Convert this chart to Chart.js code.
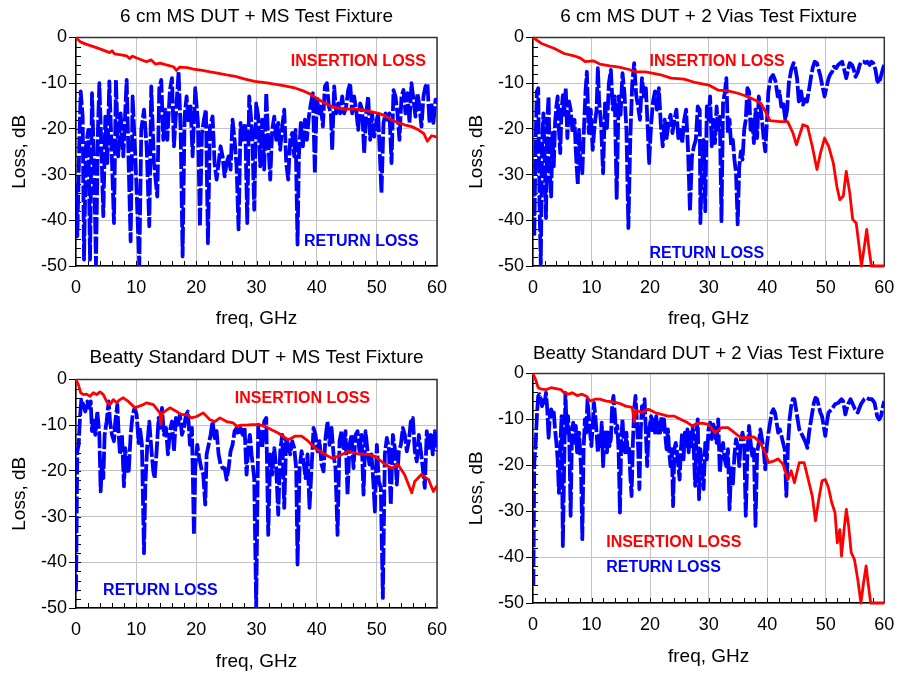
<!DOCTYPE html>
<html><head><meta charset="utf-8">
<script src="https://cdn.jsdelivr.net/npm/chart.js@4.4.0/dist/chart.umd.min.js"></script>
<style>
html,body{margin:0;padding:0;background:#fff;overflow:hidden;}
#wrap{position:relative;width:906px;height:673px;}
canvas{position:absolute;left:0;top:0;}
</style></head><body><div id="wrap">
<canvas id="c1" width="906" height="673"></canvas>
<canvas id="c2" width="906" height="673"></canvas>
<canvas id="c3" width="906" height="673"></canvas>
<canvas id="c4" width="906" height="673"></canvas>
</div>
<script>
// ---------- titles / labels ----------
const panelTitles = ["6 cm MS DUT + MS Test Fixture", "6 cm MS DUT + 2 Vias Test Fixture",
  "Beatty Standard DUT + MS Test Fixture", "Beatty Standard DUT + 2 Vias Test Fixture"];
const xAxisTitle = "freq, GHz";
const yAxisTitle = "Loss, dB";
const ilText = "INSERTION LOSS";
const rlText = "RETURN LOSS";

// ---------- top-left: 6 cm MS DUT + MS fixture ----------
const tlIlFreq = [0,0.66,1.5,2.9,4.2,5.6,6.0,6.4,7.5,8.4,8.9,9.4,10.1,11.7,12.5,13.2,14,15,16.2,16.7,17.2,18.5,19.5,21,22.3,23.5,25,26.5,28.1,29.7,32,34.7,36.5,38,39,40,41,41.9,43,44.7,46,47.5,49,50.3,51.5,52.4,53.5,54.6,55.8,56.9,57.8,58.4,59.1,60];
const tlIlLoss = [0,-0.9,-1.4,-2.0,-2.6,-3.3,-2.9,-3.6,-3.8,-4.0,-4.6,-4.1,-4.5,-5.3,-4.9,-5.8,-5.6,-6.0,-6.4,-7.2,-6.5,-6.6,-6.9,-7.2,-7.5,-7.8,-8.2,-8.5,-9.1,-9.6,-10.0,-10.6,-11.1,-11.8,-12.4,-13.3,-14.1,-14.7,-15.3,-15.7,-15.6,-15.8,-16.2,-16.6,-17.2,-18.0,-18.6,-19.1,-19.5,-20.2,-21.0,-22.7,-21.5,-21.8];
const tlRlFreq = [0,0.22,0.55,0.78,1.11,1.33,1.66,2.05,2.33,2.66,2.99,3.32,3.65,3.88,4.21,4.54,4.87,5.2,5.54,5.92,6.31,6.64,7.03,7.42,7.86,8.42,8.75,9.08,9.41,9.86,10.52,10.85,11.3,11.74,12.18,12.51,12.96,13.51,13.84,14.17,14.51,14.84,15.17,15.61,15.95,16.28,16.72,17.05,17.39,17.72,18.05,18.38,18.71,19.05,19.38,19.82,20.27,20.6,20.93,21.26,21.59,21.93,22.26,22.7,23.03,23.37,23.7,24.03,24.36,24.7,25.03,25.36,25.69,26.02,26.36,26.69,27.02,27.35,27.69,28.13,28.46,28.79,29.29,29.62,29.95,30.29,30.62,30.95,31.28,31.62,31.95,32.28,32.61,32.95,33.28,33.61,33.94,34.27,34.61,34.94,35.27,35.6,35.94,36.27,36.49,36.82,37.04,37.37,37.71,38.04,38.37,38.7,39.04,39.37,39.7,40.03,40.36,40.7,41.03,41.36,41.69,42.03,42.36,42.58,42.91,43.24,43.57,43.91,44.24,44.57,44.9,45.24,45.57,45.9,46.23,46.56,46.9,47.23,47.56,47.89,48.23,48.56,48.89,49.22,49.56,49.89,50.22,50.44,50.77,51.11,51.44,51.77,52.1,52.44,52.77,53.1,53.43,53.76,54.1,54.43,54.76,55.09,55.43,55.76,56.09,56.42,56.75,57.09,57.42,57.75,58.08,58.41,58.75,59.08,59.41,59.74,60];
const tlRlLoss = [-31.8,-43.5,-23.1,-11.8,-17.3,-48.6,-23.8,-20.2,-48.6,-12.2,-27.5,-49.7,-20.2,-10.0,-23.8,-39.1,-17.3,-27.5,-9.6,-24.6,-40.6,-9.3,-26.0,-16.6,-26.0,-9.3,-27.5,-44.6,-12.9,-26.0,-49.7,-20.2,-15.8,-23.8,-41.3,-10.7,-27.5,-34.8,-11.1,-9.3,-22.4,-15.8,-22.4,-11.5,-8.9,-23.8,-14.4,-7.5,-20.2,-47.9,-17.3,-12.9,-18.7,-15.1,-26.0,-11.1,-18.7,-41.3,-20.9,-18.0,-15.8,-45.0,-19.5,-17.3,-27.5,-31.1,-27.5,-23.8,-26.0,-30.4,-27.5,-26.0,-28.9,-18.0,-22.4,-28.2,-42.0,-18.7,-22.4,-18.7,-40.6,-12.9,-20.9,-37.7,-14.4,-17.3,-28.2,-18.0,-28.9,-12.2,-22.4,-31.1,-20.2,-17.3,-22.4,-18.7,-24.6,-19.5,-15.8,-27.5,-31.1,-22.4,-20.9,-26.0,-20.2,-45.3,-26.0,-18.7,-23.8,-18.0,-22.4,-17.3,-14.4,-12.2,-29.7,-12.9,-16.6,-15.1,-19.5,-10.7,-10.0,-15.1,-16.6,-24.6,-10.7,-16.6,-14.4,-16.6,-12.9,-16.6,-15.1,-11.5,-10.0,-16.6,-12.9,-15.8,-20.2,-14.4,-15.8,-25.3,-16.6,-12.9,-22.4,-16.6,-21.7,-18.7,-16.6,-23.8,-34.0,-18.7,-16.6,-18.0,-16.6,-27.5,-11.5,-12.9,-16.6,-22.4,-12.9,-11.5,-16.6,-12.2,-18.7,-10.0,-13.6,-17.3,-12.2,-15.1,-19.5,-12.9,-10.7,-10.0,-18.7,-14.4,-18.7,-13.6,-13.6];

// ---------- top-right: 6 cm MS DUT + 2 vias fixture ----------
const trIlFreq = [0,1.44,3.66,5.3,7,8.1,8.9,10.3,11.4,13.1,14.7,16.4,17.5,19.2,20.3,21.9,23.6,25.8,27.8,30,31.6,33.3,35,36.6,37.8,38.9,39.7,40.5,42.2,43.5,44.4,45,46.1,46.9,47.7,48.5,49.1,49.8,50.5,51.3,51.9,52.4,53,53.5,54.1,54.6,55.2,55.7,56.1,56.6,57,57.4,57.8,60];
const trIlLoss = [0,-1.3,-2.4,-3.5,-4.0,-4.5,-5.3,-5.1,-5.8,-6.2,-6.5,-7.0,-7.5,-7.5,-7.8,-8.2,-8.9,-9.1,-9.9,-10.4,-11.5,-11.7,-12.2,-12.9,-13.6,-14.4,-16.2,-18.2,-18.4,-18.4,-20.9,-23.5,-19.1,-19.5,-23.8,-28.9,-25.3,-22.0,-23.8,-27.5,-32.6,-35.5,-34.7,-29.3,-34.0,-39.8,-40.6,-45.7,-50,-45.7,-42.0,-46.4,-50,-50];
const trRlFreq = [0.06,0.22,0.44,0.66,0.89,1.11,1.33,1.55,1.77,1.99,2.22,2.44,2.66,2.88,3.1,3.32,3.55,3.77,3.99,4.21,4.43,4.65,4.88,5.1,5.32,5.6,5.87,6.15,6.43,6.76,7.09,7.31,7.65,7.87,8.09,8.42,8.64,8.97,9.2,9.53,9.86,10.19,10.53,10.86,11.08,11.3,11.63,11.97,12.3,12.63,12.96,13.3,13.63,13.96,14.29,14.63,14.96,15.29,15.62,15.96,16.29,16.62,16.95,17.28,17.62,17.95,18.28,18.61,18.95,19.28,19.61,19.83,20.17,20.5,20.83,21.16,21.5,21.83,22.16,22.49,22.82,23.16,23.49,23.82,24.15,24.49,24.82,25.15,25.48,25.82,26.15,26.48,26.81,27.15,27.48,27.81,28.14,28.48,
  28.59,28.86,29.14,29.42,29.69,29.97,30.25,30.53,30.8,31.08,31.36,31.63,31.91,32.19,32.46,32.74,33.02,33.3,33.57,33.85,34.13,34.4,34.68,34.96,35.23,35.51,35.79,36.07,36.34,36.62,36.9,37.17,37.45,37.73,38.0,38.28,38.56,38.84,39.11,39.39,39.67,
  40.0,40.2,40.6,41.0,41.4,41.8,42.1,42.4,42.7,43.1,43.4,43.7,44.1,44.5,44.7,45.1,45.4,45.8,46.1,46.5,46.8,47.1,47.5,47.8,48.1,48.5,48.8,49.1,49.5,49.8,50.1,50.5,50.8,51.1,51.4,51.8,52.1,52.5,52.8,53.1,53.5,53.8,54.1,54.5,54.8,55.1,55.5,55.8,56.1,56.5,56.8,57.1,57.5,57.8,58.1,58.5,58.8,59.1,59.4,59.8,60];
const trRlLoss = [-31.1,-43.5,-23.1,-11.8,-11.1,-36.2,-49.7,-24.6,-16.6,-26.0,-39.5,-18.0,-12.9,-30.0,-34.8,-20.9,-28.2,-18.7,-15.1,-12.9,-20.2,-25.3,-15.8,-12.6,-16.9,-11.1,-22.0,-14.0,-15.8,-20.9,-18.0,-24.9,-32.2,-20.2,-28.2,-29.7,-22.0,-11.8,-7.5,-20.9,-15.8,-24.6,-19.1,-15.8,-6.7,-14.0,-19.1,-29.7,-14.4,-19.8,-10.0,-7.1,-15.8,-12.9,-35.1,-12.9,-16.9,-7.8,-12.2,-20.2,-41.7,-22.0,-10.0,-5.6,-12.6,-15.1,-18.0,-8.9,-12.9,-11.1,-20.2,-27.5,-19.1,-14.0,-11.8,-15.8,-11.1,-19.1,-23.8,-18.0,-22.0,-18.7,-16.9,-20.9,-18.0,-15.8,-22.0,-20.2,-23.1,-18.0,-15.8,-24.6,-38.0,-26.0,-23.8,-22.4,-15.1,-15.8,
  -40.6,-28.2,-22.4,-38.0,-15.1,-18.0,-12.9,-23.8,-18.0,-23.1,-15.1,-20.2,-17.3,-40.2,-14.4,-12.2,-8.9,-20.9,-18.0,-23.8,-22.4,-26.7,-29.7,-40.9,-28.2,-24.9,-26.7,-20.2,-18.0,-11.1,-11.8,-20.2,-18.0,-23.1,-15.8,-22.0,-12.9,-15.1,-18.0,-22.0,-24.9,
  -17.3,-11.8,-8.9,-8.2,-9.5,-12.9,-11.8,-15.1,-14.0,-18.0,-15.8,-10.0,-7.1,-5.6,-6.0,-8.9,-14.0,-11.8,-14.7,-13.5,-14.0,-11.8,-8.5,-6.5,-5.3,-5.6,-7.1,-8.5,-11.1,-12.9,-11.1,-8.9,-8.0,-7.5,-6.4,-6.7,-6.0,-5.6,-5.3,-6.7,-8.9,-7.1,-5.6,-6.0,-7.1,-8.6,-7.5,-6.0,-5.3,-5.3,-5.6,-5.3,-6.0,-5.3,-5.6,-7.1,-9.5,-10.0,-8.6,-6.7,-6.0];

// ---------- bottom-left: Beatty DUT + MS fixture ----------
const blIlFreq = [0,0.39,0.78,1.22,1.77,2.33,2.88,3.43,3.99,4.54,5.09,5.65,6.2,6.76,7.31,7.86,8.69,9.25,9.8,10.35,11.18,11.74,12.85,13.95,14.1,14.4,15.61,16.72,17.55,18.38,19.21,20.04,21.15,22.26,23.09,23.92,25.03,26.13,26.69,27.52,28.35,29.2,30.3,31.4,32.5,33.6,35.3,36.4,37.5,38.6,39.7,41.4,42.5,43.6,45.3,46.9,48.6,49.7,51.4,52.5,53.5,54.6,55.8,56.3,57.4,58.6,59.4,59.9,60];
const blIlLoss = [0,-1.1,-2.9,-3.3,-3.2,-3.7,-2.9,-3.3,-2.7,-3.3,-4.8,-5.5,-4.4,-5.1,-4.4,-4.0,-4.8,-5.5,-6.2,-5.9,-5.5,-5.1,-5.5,-7.3,-9.8,-7.3,-6.2,-7.0,-7.7,-7.7,-8.4,-8.1,-7.3,-8.8,-9.2,-8.4,-9.2,-9.5,-10.2,-10.0,-10.0,-9.9,-9.9,-10.2,-11.0,-11.7,-13.2,-12.4,-12.4,-13.5,-15.0,-16.4,-17.2,-16.8,-15.7,-16.3,-16.4,-16.8,-18.6,-19.4,-18.6,-20.8,-24.8,-22.3,-20.8,-21.9,-24.5,-23.4,-23.6];
const blRlFreq = [0,0.22,0.44,0.66,0.89,1.22,1.55,1.88,2.21,2.44,2.66,2.88,3.21,3.54,3.88,4.1,4.32,4.54,4.76,5.09,5.43,5.65,5.98,6.31,6.53,6.87,7.09,7.31,7.64,7.97,8.19,8.42,8.75,9.08,9.41,9.75,10.08,10.41,10.63,10.96,11.3,11.52,11.85,12.18,12.51,12.85,13.07,13.4,13.73,13.95,14.29,14.62,14.95,15.28,15.61,15.95,16.28,16.61,16.94,17.27,17.61,17.94,18.27,18.6,18.94,19.27,19.6,19.82,20.15,20.49,20.82,21.15,21.48,21.71,22.04,22.37,22.7,23.03,23.37,23.7,24.03,24.36,24.7,25.03,25.36,25.69,26.02,26.36,26.69,27.02,27.35,27.69,28.02,28.35,28.68,28.9,
  29.18,29.62,29.95,30.29,30.62,30.95,31.28,31.62,31.95,32.28,32.61,32.95,33.28,33.61,33.94,34.27,34.61,34.94,35.27,35.6,35.94,36.27,36.6,36.82,37.15,37.49,37.82,38.15,38.48,38.81,39.15,39.48,39.81,40.14,40.48,40.81,41.14,41.47,41.8,42.14,42.47,42.8,43.13,43.47,43.8,44.13,44.46,44.79,45.13,45.46,45.79,46.12,46.46,46.79,47.12,47.45,47.79,48.12,48.45,48.78,49.11,49.45,49.67,50.0,50.33,50.66,51.0,51.33,51.66,51.99,52.32,52.66,52.99,53.32,53.66,53.99,54.32,54.65,54.98,55.32,55.65,55.98,56.31,56.64,56.98,57.31,57.64,57.97,58.3,58.64,58.97,59.3,59.63,59.97];
const blRlLoss = [-46.4,-15.7,-14.3,-8.4,-4.4,-5.5,-7.0,-4.8,-6.2,-4.8,-11.3,-8.4,-12.1,-7.0,-12.1,-24.5,-17.9,-21.6,-12.1,-9.2,-4.8,-9.2,-12.1,-13.5,-9.2,-5.5,-12.1,-16.4,-12.1,-23.4,-15.0,-17.9,-20.5,-12.1,-7.7,-6.2,-7.7,-13.9,-10.6,-14.3,-38.0,-23.0,-14.3,-9.2,-15.0,-20.1,-21.6,-15.7,-8.4,-10.6,-6.2,-12.1,-10.6,-16.4,-11.3,-9.2,-15.7,-8.4,-9.9,-7.7,-12.1,-10.6,-7.7,-7.0,-14.3,-10.6,-34.0,-19.4,-14.3,-17.2,-19.4,-20.8,-27.4,-16.4,-14.3,-12.1,-9.2,-12.8,-11.3,-16.4,-18.6,-19.4,-19.4,-21.9,-19.4,-15.7,-14.3,-11.3,-10.6,-12.1,-10.6,-12.1,-10.6,-20.8,-14.3,-12.1,
  -16.4,-21.6,-50,-9.9,-12.1,-15.0,-9.2,-8.4,-34.0,-16.4,-20.8,-15.0,-19.4,-29.6,-15.7,-12.1,-28.1,-12.8,-14.3,-16.4,-13.5,-15.0,-19.4,-40.5,-19.4,-15.7,-17.9,-21.6,-16.4,-28.1,-19.4,-10.6,-12.1,-15.7,-13.5,-18.6,-20.1,-12.8,-9.2,-14.3,-10.6,-16.4,-19.4,-34.0,-13.5,-11.3,-15.0,-11.3,-25.2,-14.3,-12.1,-19.4,-12.1,-11.3,-15.7,-12.1,-25.2,-11.3,-15.7,-18.6,-16.4,-23.0,-28.9,-14.3,-22.3,-23.7,-47.8,-16.4,-12.8,-15.0,-27.4,-12.1,-15.0,-23.0,-15.7,-14.3,-10.6,-12.1,-15.7,-13.5,-9.2,-8.4,-15.7,-17.9,-12.1,-15.7,-19.4,-23.7,-11.3,-15.0,-12.1,-16.4,-11.3,-15.7];

// ---------- bottom-right: Beatty DUT + 2 vias fixture ----------
const brIlFreq = [0,0.44,0.89,1.44,2.27,3.1,3.93,4.76,5.32,6.15,6.7,7.53,8.37,9.2,9.75,10.58,11.41,12.52,13.63,14.74,15.84,16.95,17.3,17.6,18.61,19.72,20.83,21.94,23.05,24.15,25.26,26.37,27.2,28.03,28.86,29.97,31.08,32.19,33.3,34.4,35.51,36.62,37.73,38.84,39.67,40.22,41.05,41.88,42.71,43.54,44.1,44.65,45.48,46.31,47.15,47.7,48.25,48.81,49.36,49.92,50.47,51.02,51.58,51.97,52.41,52.69,53.13,53.52,53.91,54.35,54.9,55.46,56.01,56.46,56.9,57.23,57.68,60];
const brIlLoss = [0,-1.3,-3.1,-3.4,-3.5,-3.1,-3.3,-3.5,-4.2,-4.5,-4.2,-4.8,-4.5,-5.0,-6.0,-5.6,-5.6,-6.0,-6.2,-6.5,-7.1,-7.4,-10.5,-8.0,-8.5,-7.8,-8.5,-8.9,-9.3,-9.3,-10.0,-10.7,-11.4,-10.9,-10.8,-11.1,-12.9,-11.8,-11.8,-12.9,-14.0,-14.0,-13.8,-15.1,-17.3,-19.4,-19.1,-18.6,-19.8,-23.1,-21.2,-23.8,-19.4,-19.4,-23.8,-26.7,-32.1,-27.4,-23.4,-23.1,-24.9,-28.1,-30.3,-36.9,-34.0,-39.8,-34.0,-29.6,-33.2,-39.0,-40.5,-44.8,-50,-45.6,-41.9,-45.6,-50,-50];
const brRlFreq = [0.06,0.22,0.44,0.66,0.89,1.11,1.33,1.55,1.77,1.99,2.22,2.44,2.66,2.88,3.1,3.32,3.55,3.77,3.99,4.21,4.43,4.65,4.88,5.1,5.32,5.54,5.76,5.98,6.2,6.43,6.65,6.87,7.09,7.31,7.53,7.87,8.2,8.42,8.64,8.86,9.09,9.31,9.53,9.75,9.97,10.19,10.42,10.64,10.86,11.08,11.3,11.52,11.74,11.97,12.19,12.41,12.63,12.85,13.07,13.3,13.52,13.74,13.96,14.18,14.4,14.63,14.85,15.07,15.29,15.51,15.73,15.96,16.18,16.4,16.62,16.84,17.06,17.28,17.51,17.73,17.95,18.17,18.39,18.61,18.84,19.06,19.28,19.5,19.72,19.94,20.17,20.39,20.61,20.83,21.05,21.27,21.5,21.72,21.94,22.16,22.38,22.6,22.82,23.05,23.27,23.49,23.71,23.93,24.15,24.38,24.6,24.82,25.04,25.26,25.48,25.71,25.93,26.15,26.37,26.59,26.81,27.03,27.26,27.48,27.7,27.92,28.14,28.36,
  28.59,28.86,29.14,29.42,29.69,29.97,30.25,30.53,30.8,31.08,31.36,31.63,31.91,32.19,32.46,32.74,33.02,33.3,33.57,33.85,34.13,34.4,34.68,34.96,35.23,35.51,35.79,36.07,36.34,36.62,36.9,37.17,37.45,37.73,38.0,38.28,38.56,38.84,39.11,39.39,39.67,39.94,40.22,40.5,40.77,41.05,41.33,41.61,41.88,42.16,42.44,42.71,42.99,43.27,43.54,43.82,44.1,44.37,44.65,44.93,45.2,45.48,46.04,46.59,46.87,47.15,47.42,47.7,47.98,48.25,48.53,48.81,49.08,49.36,49.64,49.92,50.19,50.47,51.02,51.58,52.13,52.69,52.96,53.35,53.8,54.24,54.62,55.01,55.46,56.01,56.57,57.01,57.45,57.89,58.34,58.78,59.11,59.44,59.78,60];
const brRlLoss = [-46.3,-19.4,-15.8,-9.3,-4.9,-4.5,-5.6,-7.1,-5.3,-6.4,-4.2,-7.8,-14.0,-9.3,-7.8,-9.3,-8.5,-12.2,-15.1,-18.7,-26.0,-16.5,-9.3,-37.6,-20.2,-4.2,-12.9,-9.3,-14.3,-31.0,-12.9,-10.7,-15.1,-11.4,-17.2,-12.9,-20.2,-36.1,-16.5,-10.0,-12.9,-5.6,-9.3,-12.9,-15.8,-11.4,-6.4,-9.3,-12.9,-17.2,-12.9,-15.8,-10.7,-20.2,-14.3,-12.2,-17.2,-12.9,-15.8,-14.3,-7.1,-4.9,-8.5,-12.9,-11.4,-17.2,-30.3,-14.3,-10.0,-15.8,-17.2,-12.9,-17.2,-15.8,-22.3,-26.7,-15.1,-7.8,-4.9,-10.0,-15.8,-25.2,-12.9,-7.1,-9.3,-5.6,-12.9,-20.2,-12.9,-11.4,-9.3,-12.9,-10.0,-12.9,-9.3,-12.9,-10.7,-12.9,-9.3,-12.2,-10.0,-13.6,-16.5,-12.2,-17.2,-20.2,-16.5,-28.9,-16.5,-15.1,-17.2,-20.2,-23.1,-16.5,-12.9,-18.7,-12.9,-15.8,-12.2,-17.2,-12.9,-15.8,-11.4,-17.2,-24.5,-12.9,-10.0,-27.4,
  -16.5,-20.2,-25.2,-15.1,-18.7,-12.2,-10.7,-14.3,-11.1,-12.9,-15.1,-10.0,-21.6,-17.2,-15.1,-18.7,-20.2,-16.5,-29.6,-20.2,-24.5,-17.9,-14.3,-15.8,-20.2,-14.3,-12.9,-15.1,-31.0,-17.2,-11.4,-15.1,-17.9,-16.5,-33.2,-17.2,-15.1,-12.2,-14.3,-16.5,-20.9,-15.8,-12.9,-10.7,-8.5,-7.8,-8.5,-10.7,-12.9,-12.2,-13.6,-15.1,-16.5,-26.7,-15.8,-10.0,-7.1,-5.6,-5.6,-7.8,-10.0,-12.2,-13.6,-15.1,-16.2,-12.9,-10.7,-8.5,-6.4,-5.3,-5.6,-7.1,-8.5,-9.3,-11.4,-13.6,-10.7,-8.5,-7.8,-6.7,-6.4,-5.6,-6.0,-8.9,-6.7,-5.6,-6.7,-7.8,-8.5,-6.7,-5.6,-5.3,-5.6,-5.6,-6.4,-9.3,-10.0,-9.3,-7.1,-6.0];

// ---------- drawing ----------
const FONT = '"Liberation Sans", Arial, Helvetica, sans-serif';
Chart.defaults.font.family = FONT;
Chart.defaults.color = '#000';
const RED = '#ff0000', BLUE = '#0000ff', GRID = '#c4c4c4';

function zip(xs, ys) { const n = Math.min(xs.length, ys.length); const out = []; for (let i = 0; i < n; i++) out.push({x: xs[i], y: ys[i]}); return out; }

const decor = {
  id: 'decor',
  beforeDatasetsDraw(chart) {
    const {ctx, chartArea: a, scales: {x, y}} = chart;
    ctx.save();
    ctx.strokeStyle = '#000'; ctx.lineWidth = 1;
    ctx.beginPath();
    for (let v = 2; v < 60; v += 2) { const px = Math.round(x.getPixelForValue(v)) + 0.5; ctx.moveTo(px, a.bottom); ctx.lineTo(px, a.bottom - 5); }
    for (let v = -48; v < 0; v += 2) { const py = Math.round(y.getPixelForValue(v)) + 0.5; ctx.moveTo(a.left, py); ctx.lineTo(a.left + 5, py); }
    ctx.stroke();
    ctx.strokeStyle = '#333'; ctx.lineWidth = 1.5;
    ctx.beginPath(); ctx.moveTo(a.left, a.top); ctx.lineTo(a.right, a.top); ctx.lineTo(a.right, a.bottom); ctx.stroke();
    ctx.restore();
  },
  afterDatasetsDraw(chart, args, opts) {
    const {ctx, scales: {x, y}} = chart;
    ctx.save();
    ctx.font = 'bold 16px ' + FONT;
    ctx.textBaseline = 'middle'; ctx.textAlign = 'left';
    (opts.labels || []).forEach(l => { ctx.fillStyle = l.color; ctx.fillText(l.text, x.getPixelForValue(l.x), y.getPixelForValue(l.y)); });
    ctx.restore();
  }
};

function makePanel(id, p) {
  new Chart(document.getElementById(id), {
    type: 'line',
    data: { datasets: [
      { label: ilText, data: zip(p.ilF, p.ilL), borderColor: RED, borderWidth: 2.8, pointRadius: 0, borderJoinStyle: 'round', tension: 0, clip: 3 },
      { label: rlText, data: zip(p.rlF, p.rlL), borderColor: BLUE, borderWidth: 3.8, borderDash: [17, 2.5], pointRadius: 0, borderJoinStyle: 'round', tension: 0 }
    ]},
    options: {
      responsive: false, animation: false, devicePixelRatio: 1,
      layout: { padding: p.pad },
      plugins: {
        legend: { display: false }, tooltip: { enabled: false },
        title: { display: true, text: p.title, fullSize: false, color: '#000', font: { size: 19, weight: 'normal' }, padding: { top: p.tt, bottom: p.tb } },
        decor: { labels: p.labels }
      },
      scales: {
        x: { type: 'linear', min: 0, max: 60,
          ticks: { stepSize: 10, font: { size: 18 }, padding: 11.7, color: '#000', maxRotation: 0 },
          grid: { color: GRID, lineWidth: 1, drawTicks: false },
          border: { color: '#000', width: 1.5 },
          title: { display: true, text: xAxisTitle, font: { size: 19 }, color: '#000', padding: { top: 0, bottom: p.xtb } },
          afterFit(s) { s.height = p.xh; } },
        y: { type: 'linear', min: -50, max: 0,
          ticks: { stepSize: 10, font: { size: 18 }, padding: 2, color: '#000' },
          grid: { color: GRID, lineWidth: 1, drawTicks: true, tickLength: 7, tickColor: '#000' },
          border: { color: '#000', width: 1.5 },
          title: { display: true, text: yAxisTitle, font: { size: 19 }, color: '#000', padding: { top: p.ytp, bottom: 0 } },
          afterFit(s) { s.width = p.yw; } }
      }
    },
    plugins: [decor]
  });
}

makePanel('c1', { title: panelTitles[0], ilF: tlIlFreq, ilL: tlIlLoss, rlF: tlRlFreq, rlL: tlRlLoss,
  pad: { left: 0, right: 469, top: 0, bottom: 337 }, tt: 5.6, tb: 9.1, xh: 70, xtb: 5.6, yw: 76, ytp: 8.6,
  labels: [{ text: ilText, color: RED, x: 35.7, y: -5.35 }, { text: rlText, color: BLUE, x: 37.9, y: -44.65 }] });
makePanel('c2', { title: panelTitles[1], ilF: trIlFreq, ilL: trIlLoss, rlF: trRlFreq, rlL: trRlLoss,
  pad: { left: 453, right: 12, top: 0, bottom: 337 }, tt: 5.6, tb: 9.1, xh: 70, xtb: 5.6, yw: 80, ytp: 12.6,
  labels: [{ text: ilText, color: RED, x: 19.9, y: -5.35 }, { text: rlText, color: BLUE, x: 19.9, y: -47.3 }] });
makePanel('c3', { title: panelTitles[2], ilF: blIlFreq, ilL: blIlLoss, rlF: blRlFreq, rlL: blRlLoss,
  pad: { left: 0, right: 469, top: 336, bottom: 0 }, tt: 10.6, tb: 10.1, xh: 65, xtb: 0.1, yw: 76, ytp: 8.6,
  labels: [{ text: ilText, color: RED, x: 26.4, y: -4.1 }, { text: rlText, color: BLUE, x: 4.5, y: -46.2 }] });
makePanel('c4', { title: panelTitles[3], ilF: brIlFreq, ilL: brIlLoss, rlF: brRlFreq, rlL: brRlLoss,
  pad: { left: 453, right: 12, top: 336, bottom: 0 }, tt: 6.6, tb: 8.1, xh: 70, xtb: 5.1, yw: 80, ytp: 12.6,
  labels: [{ text: ilText, color: RED, x: 12.5, y: -36.8 }, { text: rlText, color: BLUE, x: 12.5, y: -42.2 }] });
</script>
</body></html>
